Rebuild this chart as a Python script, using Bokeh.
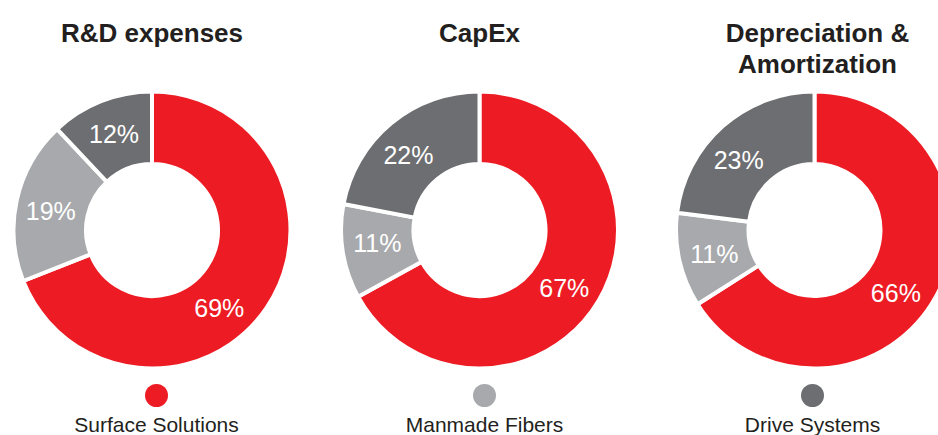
import numpy as np
from bokeh.plotting import figure
from bokeh.models import Range1d, ColumnDataSource
from bokeh.embed import file_html
from bokeh.resources import INLINE
from bokeh.core.properties import value

# ---- data ----
titles = ["R&D expenses", "CapEx", "Depreciation &\nAmortization"]
segments = ["Surface Solutions", "Manmade Fibers", "Drive Systems"]
rd_values = [69, 19, 12]
capex_values = [67, 11, 22]
da_values = [66, 11, 23]
colors = ["#ED1C24", "#A7A9AC", "#6D6E71"]

charts = [rd_values, capex_values, da_values]

# ---- layout (screen pixel positions) ----
W, H = 938, 435
def sy(s):
    return H - s

centers_x = [151.5, 479.0, 814.0]
center_y = sy(229.5)
outer_r, inner_r = 138.5, 66.0
label_r = 103.0
label_shift_deg = [[-15, 2, 0], [-4, -2, 4], [-9, 1, 6]]
legend_x = [156, 484, 812]
font = "Liberation Sans"

p = figure(width=W, height=H, x_range=Range1d(0, W), y_range=Range1d(0, H),
           output_backend="svg", toolbar_location=None, min_border=0)
p.axis.visible = False
p.grid.visible = False
p.outline_line_color = None
p.background_fill_color = "white"
p.border_fill_color = "white"

wx, wy, ws, we, wc = [], [], [], [], []
lx, ly, lt = [], [], []
for ci, vals in enumerate(charts):
    total = float(sum(vals))
    cum = 0.0
    for si, v in enumerate(vals):
        f0 = cum / total
        cum += v
        f1 = cum / total
        start = np.pi / 2 - 2 * np.pi * f1
        end = np.pi / 2 - 2 * np.pi * f0
        wx.append(centers_x[ci]); wy.append(center_y)
        ws.append(start); we.append(end); wc.append(colors[si])
        mid = (start + end) / 2 + np.deg2rad(label_shift_deg[ci][si])
        lx.append(centers_x[ci] + label_r * np.cos(mid))
        ly.append(center_y + label_r * np.sin(mid))
        lt.append(f"{v}%")

wsrc = ColumnDataSource(dict(x=wx, y=wy, start=ws, end=we, color=wc))
p.annular_wedge(x="x", y="y", inner_radius=inner_r, outer_radius=outer_r,
                start_angle="start", end_angle="end", fill_color="color",
                line_color="white", line_width=4, source=wsrc)

lsrc = ColumnDataSource(dict(x=lx, y=ly, t=lt))
p.text(x="x", y="y", text="t", source=lsrc, text_color="white",
       text_font=value(font), text_font_size="25px",
       text_align="center", text_baseline="middle")

# titles
tx, ty, tt = [], [], []
for ci, t in enumerate(titles):
    lines = t.split("\n")
    for li, line in enumerate(lines):
        tx.append(centers_x[ci] + (3 if ci == 2 else 0))
        ty.append(sy(32.5 + 31 * li))
        tt.append(line)
p.text(x=tx, y=ty, text=tt, text_color="#231F20", text_font=value(font),
       text_font_size="26px", text_font_style="bold",
       text_align="center", text_baseline="middle")

# legend
p.circle(x=legend_x, y=[sy(395)] * 3, radius=11.5, fill_color=colors, line_color=None)
p.text(x=legend_x, y=[sy(424)] * 3, text=segments, text_color="#231F20",
       text_font=value(font), text_font_size="21px",
       text_align="center", text_baseline="middle")

open("out.html", "w").write(file_html(p, INLINE))
